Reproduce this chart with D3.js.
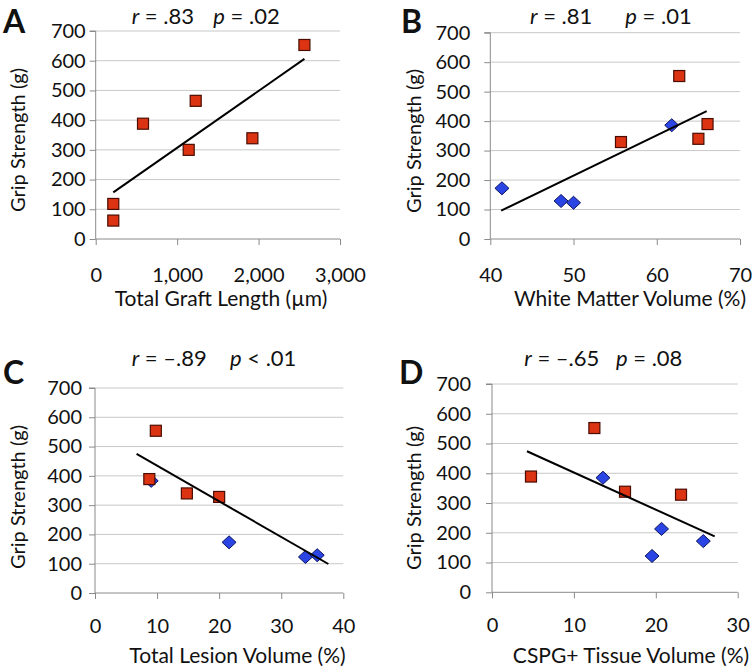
<!DOCTYPE html>
<html><head><meta charset="utf-8">
<script src="https://cdn.jsdelivr.net/npm/d3@7"></script>
<style>
body{margin:0;background:#fff;}
svg{display:block;}
text{font-family:Lato,"Open Sans",sans-serif;fill:#111;}
</style></head>
<body>
<svg id="chart" width="753" height="670"></svg>
<script>
// ---------- DATA ----------
const yTicks = [0,100,200,300,400,500,600,700];
const yTitle = "Grip Strength (g)";

// Panel A
const aRedX = [216,216,581,1142,1228,1924,2563];
const aRedY = [118,62,388,300,465,339,653];
const aBlueX = [];
const aBlueY = [];
const aTrendX = [216,2563];
const aTrendY = [157,606];
const aXTicks = [0,1000,2000,3000];
const aXTickLabels = ["0","1,000","2,000","3,000"];

// Panel B
const bRedX = [55.7,62.7,65.0,66.1];
const bRedY = [329,553,340,390];
const bBlueX = [41.4,48.5,50.0,61.8];
const bBlueY = [172,129,123,386];
const bTrendX = [41.3,66.0];
const bTrendY = [96,434];
const bXTicks = [40,50,60,70];
const bXTickLabels = ["40","50","60","70"];

// Panel C
const cRedX = [9.8,8.75,14.8,20.0];
const cRedY = [554,389,340,328];
const cBlueX = [9.05,21.6,33.9,35.8];
const cBlueY = [383,173,123,129];
const cTrendX = [6.7,37.6];
const cTrendY = [475,99];
const cXTicks = [0,10,20,30,40];
const cXTickLabels = ["0","10","20","30","40"];

// Panel D
const dRedX = [4.76,12.5,16.24,23.08];
const dRedY = [389,552,338,328];
const dBlueX = [13.55,20.7,19.54,25.8];
const dBlueY = [385,213,122,172];
const dTrendX = [4.27,27.19];
const dTrendY = [474,188];
const dXTicks = [0,10,20,30];
const dXTickLabels = ["0","10","20","30"];

const panelLetters = ["A","B","C","D"];
const rTexts = ["= .83","= .81","= \u2013.89","= \u2013.65"];
const pTexts = ["= .02","= .01","< .01","= .08"];
const xTitles = ["Total Graft Length (\u00b5m)","White Matter Volume (%)","Total Lesion Volume (%)","CSPG+ Tissue Volume (%)"];

// ---------- LAYOUT ----------
const layouts = [
  {left:95.7,right:340,top:31,bottom:239, lx:3,ly:32.5, rx:131.7,px:213.3,ty:24, ytx:18,yty:140, xtx:221,xty:306, xtl:282, gap:10},
  {left:490.3,right:740,top:32.7,bottom:239, lx:401,ly:32.5, rx:530,px:625.3,ty:24, ytx:414,yty:141, xtx:630,xty:306, xtl:282, gap:20},
  {left:95,right:343.3,top:388,bottom:593, lx:3,ly:384, rx:131.7,px:230,ty:366, ytx:18,yty:497, xtx:237.5,xty:663, xtl:633, gap:13},
  {left:492,right:737.7,top:384,bottom:592.3, lx:399,ly:384, rx:524.3,px:616,ty:366, ytx:414,yty:498, xtx:631,xty:663, xtl:632, gap:21}
];

const panels = [
  {redX:aRedX,redY:aRedY,blueX:aBlueX,blueY:aBlueY,tX:aTrendX,tY:aTrendY,xt:aXTicks,xl:aXTickLabels},
  {redX:bRedX,redY:bRedY,blueX:bBlueX,blueY:bBlueY,tX:bTrendX,tY:bTrendY,xt:bXTicks,xl:bXTickLabels},
  {redX:cRedX,redY:cRedY,blueX:cBlueX,blueY:cBlueY,tX:cTrendX,tY:cTrendY,xt:cXTicks,xl:cXTickLabels},
  {redX:dRedX,redY:dRedY,blueX:dBlueX,blueY:dBlueY,tX:dTrendX,tY:dTrendY,xt:dXTicks,xl:dXTickLabels}
];

const svg = d3.select("#chart");
const gridColor = "#c8c8c8", axisColor = "#8a8a8a";
const redFill = "#dc3413", redStroke = "#4a0c00";
const blueFill = "#2b44e4", blueStroke = "#0c1560";

panels.forEach((p,i)=>{
  const L = layouts[i];
  const x = d3.scaleLinear().domain([p.xt[0], p.xt[p.xt.length-1]]).range([L.left, L.right]);
  const y = d3.scaleLinear().domain([0,700]).range([L.bottom, L.top]);
  const g = svg.append("g");

  // gridlines
  g.selectAll("line.grid").data(yTicks.filter(d=>d>0)).join("line")
    .attr("x1",L.left).attr("x2",L.right)
    .attr("y1",d=>y(d)).attr("y2",d=>y(d))
    .attr("stroke",gridColor).attr("stroke-width",1);

  // y axis
  const yAxis = d3.axisLeft(y).tickValues(yTicks).tickSize(6).tickPadding(L.gap-6).tickFormat(d3.format("d"));
  const ya = g.append("g").attr("transform",`translate(${L.left},0)`).call(yAxis);
  ya.select(".domain").attr("stroke",axisColor).attr("d",`M-6,${L.top}H0V${L.bottom}`);
  ya.selectAll(".tick line").attr("stroke",axisColor);
  ya.selectAll(".tick text").attr("font-size",20).attr("font-family","Lato").attr("fill","#111");

  // x axis
  const xAxis = d3.axisBottom(x).tickValues(p.xt).tickSize(6).tickFormat((d,k)=>p.xl[k]);
  const xa = g.append("g").attr("transform",`translate(0,${L.bottom})`).call(xAxis);
  xa.select(".domain").attr("stroke",axisColor).attr("d",`M${L.left},0H${L.right}`);
  xa.selectAll(".tick line").attr("stroke",axisColor);
  xa.selectAll(".tick text").attr("font-size",20).attr("font-family","Lato").attr("fill","#111")
    .attr("dy",null).attr("y",L.xtl-L.bottom);

  // blue diamonds
  const blue = p.blueX.map((v,k)=>[v,p.blueY[k]]);
  g.selectAll("path.dia").data(blue).join("path")
    .attr("d",d=>{const cx=x(d[0]),cy=y(d[1]);return `M${cx},${cy-6.5}L${cx+7},${cy}L${cx},${cy+6.5}L${cx-7},${cy}Z`;})
    .attr("fill",blueFill).attr("stroke",blueStroke).attr("stroke-width",1);

  // red squares
  const red = p.redX.map((v,k)=>[v,p.redY[k]]);
  g.selectAll("rect.sq").data(red).join("rect")
    .attr("x",d=>x(d[0])-5.5).attr("y",d=>y(d[1])-5.5).attr("width",11).attr("height",11)
    .attr("fill",redFill).attr("stroke",redStroke).attr("stroke-width",1.2);

  // trend line
  g.append("line")
    .attr("x1",x(p.tX[0])).attr("y1",y(p.tY[0]))
    .attr("x2",x(p.tX[1])).attr("y2",y(p.tY[1]))
    .attr("stroke","#000").attr("stroke-width",2);

  // panel letter
  svg.append("text").attr("x",L.lx).attr("y",L.ly).text(panelLetters[i])
    .attr("font-family","'Liberation Sans',Arial,sans-serif").attr("font-weight","bold").attr("font-size",32).attr("fill","#000");

  // title
  const t1 = svg.append("text").attr("x",L.rx).attr("y",L.ty).attr("font-size",22);
  t1.append("tspan").attr("font-style","italic").text("r");
  t1.append("tspan").text(" "+rTexts[i]);
  const t2 = svg.append("text").attr("x",L.px).attr("y",L.ty).attr("font-size",22);
  t2.append("tspan").attr("font-style","italic").text("p");
  t2.append("tspan").text(" "+pTexts[i]);

  // axis titles
  svg.append("text").attr("transform",`translate(${L.ytx},${L.yty}) rotate(-90)`)
    .attr("text-anchor","middle").attr("dy","0.35em").attr("font-size",20).text(yTitle);
  svg.append("text").attr("x",L.xtx).attr("y",L.xty).attr("text-anchor","middle").attr("font-size",21).text(xTitles[i]);
});
</script>
</body></html>
